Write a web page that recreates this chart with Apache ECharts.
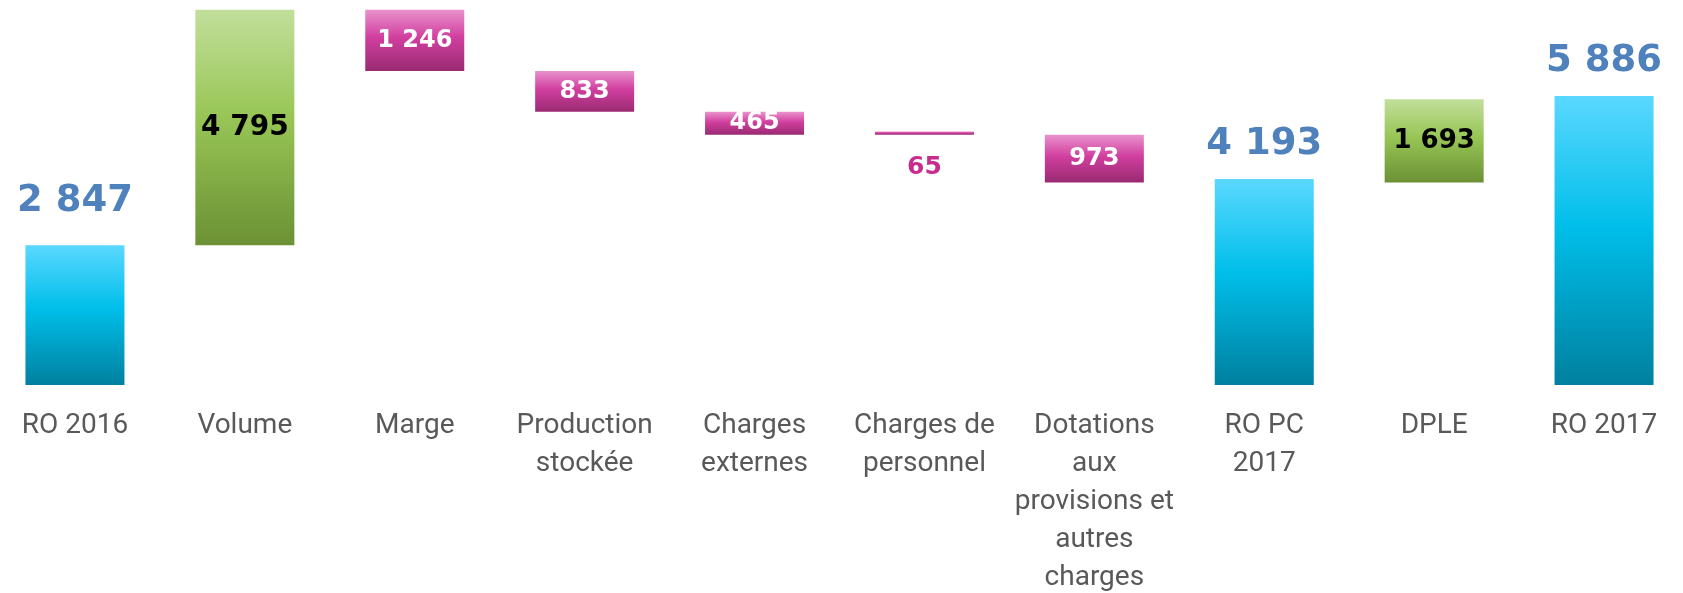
<!DOCTYPE html>
<html>
<head>
<meta charset="utf-8">
<script src="https://cdn.jsdelivr.net/npm/echarts@6/dist/echarts.min.js"></script>
<style>
  html, body { margin: 0; padding: 0; background: #fff; overflow: hidden; }
  #chart { position: absolute; left: -10px; top: 0; width: 1699px; height: 593px; }
</style>
</head>
<body>
<div id="chart"></div>
<script>
// catégories de l'axe
const categories = [
  'RO 2016', 'Volume', 'Marge', 'Production\nstockée', 'Charges\nexternes',
  'Charges de\npersonnel', 'Dotations\naux\nprovisions et\nautres\ncharges',
  'RO PC\n2017', 'DPLE', 'RO 2017'
];
// montants affichés
const values = [2847, 4795, 1246, 833, 465, 65, 973, 4193, 1693, 5886];
// bas des barres flottantes
const bases = [0, 2847, 6396, 5563, 5098, 5098, 4125, 0, 4125, 0];
// type de barre : total, hausse, baisse
const kinds = ['total', 'up', 'down', 'down', 'down', 'down', 'down', 'total', 'up', 'total'];

const grad = (c0, c1, c2) => new echarts.graphic.LinearGradient(0, 0, 0, 1, [
  { offset: 0, color: c0 }, { offset: 0.45, color: c1 }, { offset: 1, color: c2 }
]);
const fills = {
  total: grad('#5AD8FF', '#00BFEA', '#00809F'),
  up: grad('#C2DF9B', '#98C656', '#6B9134'),
  down: grad('#EA93CD', '#D13F9F', '#992A71')
};
const fmt = v => String(v).replace(/\B(?=(\d{3})+(?!\d))/g, '\u00a0');
const font = 'DejaVu Sans';

function labelFor(kind, v, i) {
  if (kind === 'total') {
    // le premier total est placé un peu plus haut dans l'original
    return { show: true, position: 'top', distance: i === 0 ? 25 : 16, color: '#4F81BD',
      fontSize: 37, fontWeight: 'bold', fontFamily: font };
  }
  if (kind === 'up') {
    return { show: true, position: 'inside', color: '#000',
      fontSize: v > 3000 ? 28 : 26, fontWeight: 'bold', fontFamily: font };
  }
  if (v < 200) {
    return { show: true, position: 'bottom', distance: 20, color: '#C72D8C',
      fontSize: 25, fontWeight: 'bold', fontFamily: font };
  }
  return { show: true, position: 'inside', color: '#fff',
    fontSize: 24, fontWeight: 'bold', fontFamily: font };
}

const chart = echarts.init(document.getElementById('chart'));
chart.setOption({
  animation: false,
  grid: { left: 0, right: 0, top: 0, bottom: 208, outerBoundsMode: 'none' },
  xAxis: {
    type: 'category',
    data: categories,
    axisLine: { show: false },
    axisTick: { show: false },
    axisLabel: {
      interval: 0, margin: 22, color: '#595959',
      fontSize: 28, lineHeight: 38, fontFamily: 'Roboto'
    }
  },
  yAxis: { type: 'value', min: 0, max: 7840, show: false, splitLine: { show: false } },
  series: [
    {
      type: 'bar', stack: 'w', barWidth: 99, silent: true,
      itemStyle: { color: 'transparent' },
      data: bases
    },
    {
      type: 'bar', stack: 'w', barWidth: 99,
      data: values.map((v, i) => ({
        value: v,
        itemStyle: { color: fills[kinds[i]] },
        label: Object.assign(labelFor(kinds[i], v, i), { formatter: p => fmt(p.value) })
      }))
    }
  ]
});
</script>
</body>
</html>
